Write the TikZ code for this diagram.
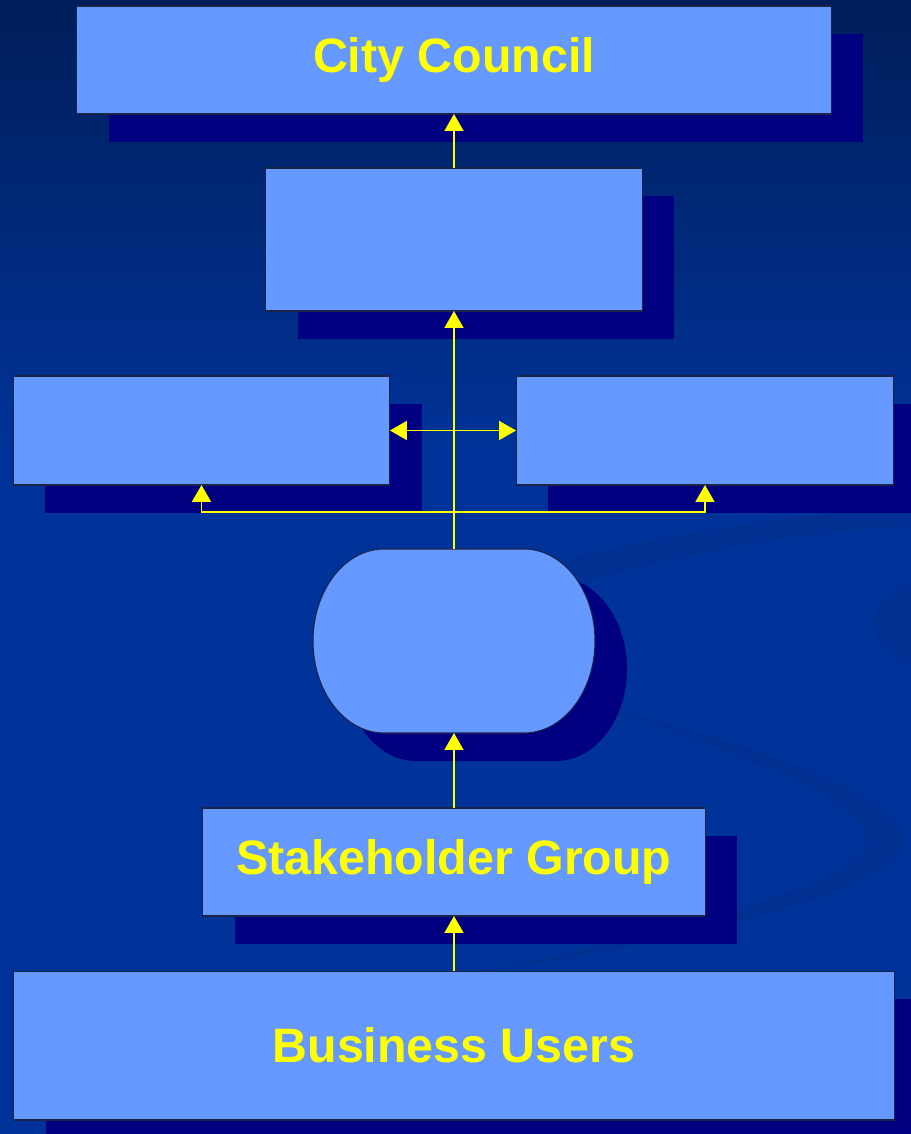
\documentclass[tikz,border=0pt]{standalone}
\usepackage{fontspec}
\setmainfont{Liberation Sans}
\usepackage{tikz}
\usetikzlibrary{arrows.meta,positioning,shadows}

\definecolor{slidetop}{HTML}{001E5A}
\definecolor{slidemain}{HTML}{003399}
\definecolor{swirl}{HTML}{00287A}
\definecolor{boxfill}{HTML}{6699FF}
\definecolor{boxline}{HTML}{1A2348}
\definecolor{shadownavy}{HTML}{000080}
\definecolor{labelyellow}{HTML}{FFFF00}

\pgfdeclareverticalshading{slidebg}{100bp}{color(0bp)=(slidemain); color(55bp)=(slidemain); color(75bp)=(slidetop); color(100bp)=(slidetop)}

\tikzset{
	orgbox/.style={rectangle,draw=boxline,line width=0.6pt,fill=boxfill,inner sep=0pt,outer sep=0pt,
		font=\fontsize{27.5}{33}\selectfont\bfseries,text=labelyellow,
		drop shadow={shadow xshift=0.64cm,shadow yshift=-0.56cm,fill=shadownavy,opacity=1}},
	link/.style={draw=labelyellow,line width=0.75pt,-{Triangle[length=9.6pt,width=10.8pt]}},
	trunk/.style={draw=labelyellow,line width=0.75pt},
}

% outline of the rounded middle shape
\newcommand{\forumoutline}{(384,549) -- (524,549) arc[start angle=-90,end angle=90,x radius=71,y radius=92]
	-- (384,733) arc[start angle=90,end angle=270,x radius=71,y radius=92] -- cycle}

\begin{document}
\begin{tikzpicture}[x=0.02cm,y=-0.02cm]
	\useasboundingbox (0,0) rectangle (911,1134);
	\shade[shading=slidebg] (0,0) rectangle (911,1134);

	% background swirl
	\begin{scope}[fill=swirl,opacity=0.25]
		\fill (560,560) .. controls (700,525) and (800,515) .. (911,508) -- (911,526) .. controls (800,534) and (700,550) .. (585,582) -- cycle;
		\fill (911,583) .. controls (880,595) and (866,615) .. (876,637) .. controls (884,652) and (900,660) .. (911,667) -- cycle;
		\fill (600,705) .. controls (780,750) and (905,800) .. (905,840) .. controls (905,890) and (700,940) .. (450,978)
			-- (450,978) .. controls (680,930) and (868,880) .. (866,840) .. controls (864,805) and (760,760) .. (600,708) -- cycle;
	\end{scope}

	\node[orgbox,minimum width=15.1cm,minimum height=2.16cm] (council) at (454,60) {City Council};
	\node[orgbox,minimum width=7.54cm,minimum height=2.86cm] (board) at (454,239.5) {};
	\node[orgbox,minimum width=7.54cm,minimum height=2.18cm] (leftbox) at (201.5,430.5) {};
	\node[orgbox,minimum width=7.56cm,minimum height=2.18cm] (rightbox) at (705,430.5) {};

	\fill[shadownavy,shift={(32,28)}] \forumoutline;
	\filldraw[fill=boxfill,draw=boxline,line width=0.6pt] \forumoutline;
	\node[minimum width=5.64cm,minimum height=3.68cm,inner sep=0pt,outer sep=0pt] (forum) at (454,641) {};

	\node[orgbox,minimum width=10.06cm,minimum height=2.16cm] (stake) at (454,862) {Stakeholder Group};
	\node[orgbox,minimum width=17.62cm,minimum height=2.98cm] (users) at (454,1045.5) {Business Users};

	\coordinate (split) at (454,512);
	\draw[link] (board.north) -- (council.south);
	\draw[trunk] (forum.north) -- (split);
	\draw[link] (split) -| (leftbox.south);
	\draw[link] (split) -| (rightbox.south);
	\draw[link,{Triangle[length=9.6pt,width=10.8pt]}-{Triangle[length=9.6pt,width=10.8pt]}] (leftbox.east) -- (rightbox.west);
	\draw[link] (split) -- (board.south);
	\draw[link] (stake.north) -- (forum.south);
	\draw[link] (users.north) -- (stake.south);
\end{tikzpicture}
\end{document}
